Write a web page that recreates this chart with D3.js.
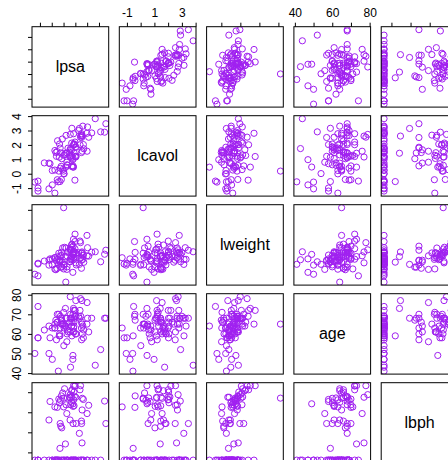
<!DOCTYPE html>
<html lang="en">
<head>
<meta charset="UTF-8">
<script src="https://cdnjs.cloudflare.com/ajax/libs/d3/7.8.5/d3.min.js"></script>
<style>
  body { margin: 0; background: #fff; }
  svg { display: block; font-family: "Liberation Sans", Arial, sans-serif; }
</style>
</head>
<body>
<script>

    // prostate data, 97 patients
    var lcavol = [-0.580,-0.994,-0.511,-1.204,0.751,-1.050,0.737,0.693,-0.777,0.223,
        0.255,-1.347,1.613,1.477,1.206,1.541,-0.416,2.288,-0.562,0.182,
        1.147,2.059,-0.545,1.782,0.385,1.447,0.513,-0.400,1.040,2.410,
        0.285,0.182,1.275,0.010,-0.010,1.308,1.423,0.457,2.661,0.798,
        0.621,1.442,0.582,1.772,1.486,1.664,2.728,1.163,1.746,1.221,
        1.092,1.660,0.513,2.127,3.154,1.267,0.975,0.464,0.542,1.061,
        0.457,1.997,2.776,2.035,2.073,1.459,2.023,2.198,-0.446,1.194,
        1.864,1.160,1.215,1.839,2.999,3.141,2.011,2.538,2.648,2.779,
        1.468,2.514,2.613,2.678,1.562,3.303,2.024,1.732,2.808,1.562,
        3.246,2.533,2.830,3.821,2.907,2.883,3.472];
    var lweight = [2.770,3.320,2.691,3.283,3.432,3.229,3.474,3.540,3.540,3.245,
        3.604,3.599,3.023,2.998,3.442,3.061,3.516,3.649,3.268,3.825,
        3.419,3.501,3.376,3.452,3.667,3.125,3.720,3.866,3.129,3.376,
        4.090,6.108,3.037,3.268,3.217,4.120,3.657,2.375,4.085,3.013,
        3.142,3.683,3.866,3.897,3.410,3.393,3.995,4.035,3.498,3.568,
        3.994,4.235,3.634,4.122,3.516,4.280,2.865,3.765,4.178,3.851,
        4.525,3.720,3.525,3.917,3.623,3.836,3.879,4.051,4.409,4.780,
        3.593,3.341,3.825,3.237,3.849,3.264,4.434,4.355,3.582,3.823,
        3.070,3.474,3.889,3.838,3.710,3.519,3.732,3.369,4.718,3.695,
        4.102,3.678,3.876,3.897,3.396,3.774,3.975];
    var age = [50,58,74,58,62,50,64,58,47,63,
        65,63,63,67,57,66,70,66,41,70,
        59,60,59,63,69,68,65,67,67,65,
        65,65,71,54,63,64,73,64,68,56,
        60,68,62,61,66,61,79,68,43,70,
        68,64,64,68,59,66,47,49,70,61,
        73,63,72,66,64,61,68,72,69,72,
        60,77,69,60,69,68,72,78,69,63,
        66,57,77,65,60,64,58,62,65,76,
        68,61,68,44,52,68,68];
    var lbph = [-1.386,-1.386,-1.386,-1.386,-1.386,-1.386,0.615,1.537,-1.386,-1.386,
        -1.386,1.267,-1.386,-1.386,-1.386,-1.386,1.244,-1.386,-1.386,1.658,
        -1.386,1.475,-0.799,0.438,1.599,0.300,-1.386,1.816,0.223,-1.386,
        1.963,1.705,1.267,-1.386,-1.386,2.171,-0.580,-1.386,1.374,0.936,
        -1.386,-1.386,1.714,-1.386,1.749,0.615,1.879,1.714,-1.386,1.374,
        -1.386,2.073,1.493,1.766,-1.386,2.122,-1.386,1.423,0.438,1.295,
        2.326,1.619,-1.386,2.008,-1.386,1.322,1.783,2.308,-1.386,2.326,
        -1.386,1.749,-1.386,0.438,-1.386,-0.051,2.122,2.326,-1.386,-1.386,
        0.560,0.438,-0.528,1.115,1.696,-1.386,1.639,-1.386,-1.386,0.936,
        -1.386,1.348,-1.386,-1.386,-1.386,1.558,0.438];
    var lpsa = [-0.431,-0.163,-0.163,-0.163,0.372,0.765,0.765,0.854,1.047,1.047,
        1.267,1.267,1.267,1.348,1.399,1.447,1.470,1.493,1.558,1.599,
        1.639,1.658,1.696,1.714,1.732,1.766,1.800,1.816,1.848,1.895,
        1.924,2.008,2.008,2.022,2.048,2.086,2.158,2.192,2.214,2.277,
        2.298,2.308,2.327,2.375,2.522,2.553,2.569,2.569,2.592,2.592,
        2.657,2.678,2.684,2.691,2.705,2.718,2.788,2.794,2.806,2.812,
        2.842,2.854,2.854,2.882,2.882,2.888,2.920,2.963,2.963,2.973,
        3.013,3.037,3.056,3.075,3.275,3.338,3.393,3.436,3.458,3.513,
        3.516,3.531,3.565,3.571,3.588,3.631,3.680,3.712,3.984,3.994,
        4.030,4.130,4.385,4.684,5.143,5.478,5.583];

    var names = ["lpsa", "lcavol", "lweight", "age", "lbph"];
    var columns = [lpsa, lcavol, lweight, age, lbph];
    var tickValues = [[0, 1, 2, 3, 4, 5], [-1, 0, 1, 2, 3, 4], [3, 4, 5, 6], [40, 50, 60, 70, 80], [-1, 0, 1, 2]];
    var topLabels = [[], [-1, 1, 3], [], [40, 60, 80], []];
    var leftLabels = [[], [-1, 0, 1, 2, 3, 4], [], [40, 50, 60, 70, 80], []];

    var width = 448;
    var height = 460;
    var x0 = 32, xStep = 87.3, panelW = 76.7;
    var y0 = 26.7, yStep = 89, panelH = 80.4;
    var pointColor = "#a020f0";

    var svg = d3.select("body").append("svg")
        .attr("width", width)
        .attr("height", height);

    // R style range: data range padded by 4% each side
    function padded(vals) {
        var e = d3.extent(vals);
        var p = (e[1] - e[0]) * 0.04;
        return [e[0] - p, e[1] + p];
    }

    var xScales = columns.map(function (c, j) {
        return d3.scaleLinear().domain(padded(c)).range([x0 + j * xStep, x0 + j * xStep + panelW]);
    });
    var yScales = columns.map(function (c, i) {
        return d3.scaleLinear().domain(padded(c)).range([y0 + i * yStep + panelH, y0 + i * yStep]);
    });

    var defs = svg.append("defs");

    names.forEach(function (rowName, i) {
        names.forEach(function (colName, j) {
            var px = x0 + j * xStep, py = y0 + i * yStep;
            var g = svg.append("g");

            defs.append("clipPath").attr("id", "clip" + i + "_" + j)
                .append("rect")
                .attr("x", px).attr("y", py)
                .attr("width", panelW).attr("height", panelH);

            if (i === j) {
                g.append("text")
                    .attr("x", px + panelW / 2)
                    .attr("y", py + panelH / 2)
                    .attr("text-anchor", "middle")
                    .attr("dominant-baseline", "central")
                    .attr("font-size", "16px")
                    .attr("fill", "#000")
                    .text(rowName);
            } else {
                g.append("g")
                    .attr("clip-path", "url(#clip" + i + "_" + j + ")")
                    .selectAll("circle")
                    .data(d3.range(lpsa.length))
                    .enter()
                    .append("circle")
                    .attr("cx", function (k) { return xScales[j](columns[j][k]); })
                    .attr("cy", function (k) { return yScales[i](columns[i][k]); })
                    .attr("r", 3.1)
                    .attr("fill", "none")
                    .attr("stroke", pointColor)
                    .attr("stroke-width", 1);
            }

            g.append("rect")
                .attr("x", px).attr("y", py)
                .attr("width", panelW).attr("height", panelH)
                .attr("fill", "none")
                .attr("stroke", "#000")
                .attr("stroke-width", 1);

            // top axis on first row, labels only on some columns
            if (i === 0) {
                var ax = d3.axisTop(xScales[j])
                    .tickValues(tickValues[j])
                    .tickSize(4)
                    .tickPadding(6)
                    .tickFormat(function (d) { return topLabels[j].indexOf(d) >= 0 ? d : ""; });
                svg.append("g")
                    .attr("class", "axis")
                    .attr("transform", "translate(0," + py + ")")
                    .call(ax);
            }
            // left axis on first column, rotated labels
            if (j === 0) {
                var ay = d3.axisLeft(yScales[i])
                    .tickValues(tickValues[i])
                    .tickSize(4)
                    .tickFormat(function (d) { return leftLabels[i].indexOf(d) >= 0 ? d : ""; });
                var gy = svg.append("g")
                    .attr("class", "axis")
                    .attr("transform", "translate(" + px + ",0)")
                    .call(ay);
                gy.selectAll("text")
                    .attr("x", -11)
                    .attr("y", 0)
                    .attr("dy", 0)
                    .attr("transform", "rotate(-90,-11,0)")
                    .attr("text-anchor", "middle");
            }
        });
    });

    svg.selectAll(".axis .domain").remove();
    svg.selectAll(".axis line").attr("stroke", "#000");
    svg.selectAll(".axis text")
        .attr("font-size", "12px")
        .attr("fill", "#000")
        .attr("font-family", "Liberation Sans, Arial, sans-serif");

</script>
</body>
</html>
